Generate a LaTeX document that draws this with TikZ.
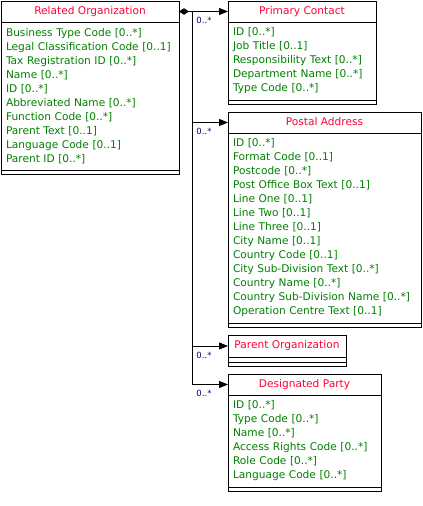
\documentclass[tikz,border=0pt]{standalone}
\usepackage{fontspec}
\setmainfont{DejaVu Sans}
\usetikzlibrary{arrows.meta,positioning,calc}
\definecolor{titlered}{HTML}{FF0033}
\definecolor{attrgreen}{HTML}{008000}
\definecolor{multnavy}{HTML}{000080}
\tikzset{
  % klassrutor
  ctitle/.style={draw,line width=0.8pt,rectangle,inner sep=0pt,outer sep=0pt,
                 minimum height=21pt,minimum width=#1,text height=8pt,text depth=2.2pt,
                 text=titlered,font=\fontsize{10.6}{14}\selectfont},
  cattr/.style={draw,line width=0.8pt,rectangle,inner xsep=5pt,inner ysep=0pt,
                outer sep=0pt,text width=#1,align=left,text=attrgreen,
                font=\fontsize{10.6}{14}\selectfont},
  cops/.style={draw,line width=0.8pt,rectangle,inner sep=0pt,outer sep=0pt,
               minimum height=4pt,minimum width=#1},
  % kopplingar
  agg/.style={{Diamond[length=10pt,width=6.5pt]}-{Triangle[length=9pt,width=7pt]},
              line width=0.9pt},
  assoc/.style={-{Triangle[length=9pt,width=7pt]},line width=0.9pt},
  mult/.style={anchor=north west,inner sep=0pt,xshift=4pt,yshift=-5.5pt,
               text=multnavy,font=\fontsize{8.5}{10}\selectfont},
}
\begin{document}
\begin{tikzpicture}[x=1pt,y=-1pt]
\useasboundingbox (0,0) rectangle (423,506);
  % Related Organization
  \node[ctitle=178pt,anchor=north west] (ro) at (1,1) {Related Organization};
  \node[cattr=168pt,minimum height=148pt,anchor=north west] (ro-a) at (ro.south west)
    {Business Type Code [0..*]\\Legal Classification Code [0..1]\\Tax Registration ID [0..*]\\
     Name [0..*]\\ID [0..*]\\Abbreviated Name [0..*]\\Function Code [0..*]\\
     Parent Text [0..1]\\Language Code [0..1]\\Parent ID [0..*]};
  \node[cops=178pt,anchor=north west] (ro-o) at (ro-a.south west) {};
  % Primary Contact
  \node[ctitle=148pt,anchor=north west] (pc) at (228,1) {Primary Contact};
  \node[cattr=138pt,minimum height=78pt,anchor=north west] (pc-a) at (pc.south west)
    {ID [0..*]\\Job Title [0..1]\\Responsibility Text [0..*]\\Department Name [0..*]\\
     Type Code [0..*]};
  \node[cops=148pt,anchor=north west] (pc-o) at (pc-a.south west) {};
  % Postal Address
  \node[ctitle=193pt,anchor=north west] (pa) at (228,112) {Postal Address};
  \node[cattr=183pt,minimum height=190pt,anchor=north west] (pa-a) at (pa.south west)
    {ID [0..*]\\Format Code [0..1]\\Postcode [0..*]\\Post Office Box Text [0..1]\\
     Line One [0..1]\\Line Two [0..1]\\Line Three [0..1]\\City Name [0..1]\\
     Country Code [0..1]\\City Sub-Division Text [0..*]\\Country Name [0..*]\\
     Country Sub-Division Name [0..*]\\Operation Centre Text [0..1]};
  \node[cops=193pt,anchor=north west] (pa-o) at (pa-a.south west) {};
  % Parent Organization
  \node[ctitle=118pt,minimum height=22pt,anchor=north west] (po) at (228,335) {Parent Organization};
  \node[cops=118pt,minimum height=5pt,anchor=north west] (po-a) at (po.south west) {};
  \node[cops=118pt,anchor=north west] (po-o) at (po-a.south west) {};
  % Designated Party
  \node[ctitle=153pt,anchor=north west] (dp) at (228,374) {Designated Party};
  \node[cattr=143pt,minimum height=92pt,anchor=north west] (dp-a) at (dp.south west)
    {ID [0..*]\\Type Code [0..*]\\Name [0..*]\\Access Rights Code [0..*]\\
     Role Code [0..*]\\Language Code [0..*]};
  \node[cops=153pt,anchor=north west] (dp-o) at (dp-a.south west) {};
  % kopplingar
  \coordinate (split) at ([xshift=13pt]ro.east);
  \draw[agg] (ro.east) -- (split) node[mult] {0..*} -- (pc.west);
  \draw[assoc] (split) |- node[mult] {0..*} (pa.west);
  \draw[assoc] (split) |- node[mult] {0..*} (po.west);
  \draw[assoc] (split) |- node[mult] {0..*} (dp.west);
\end{tikzpicture}
\end{document}
